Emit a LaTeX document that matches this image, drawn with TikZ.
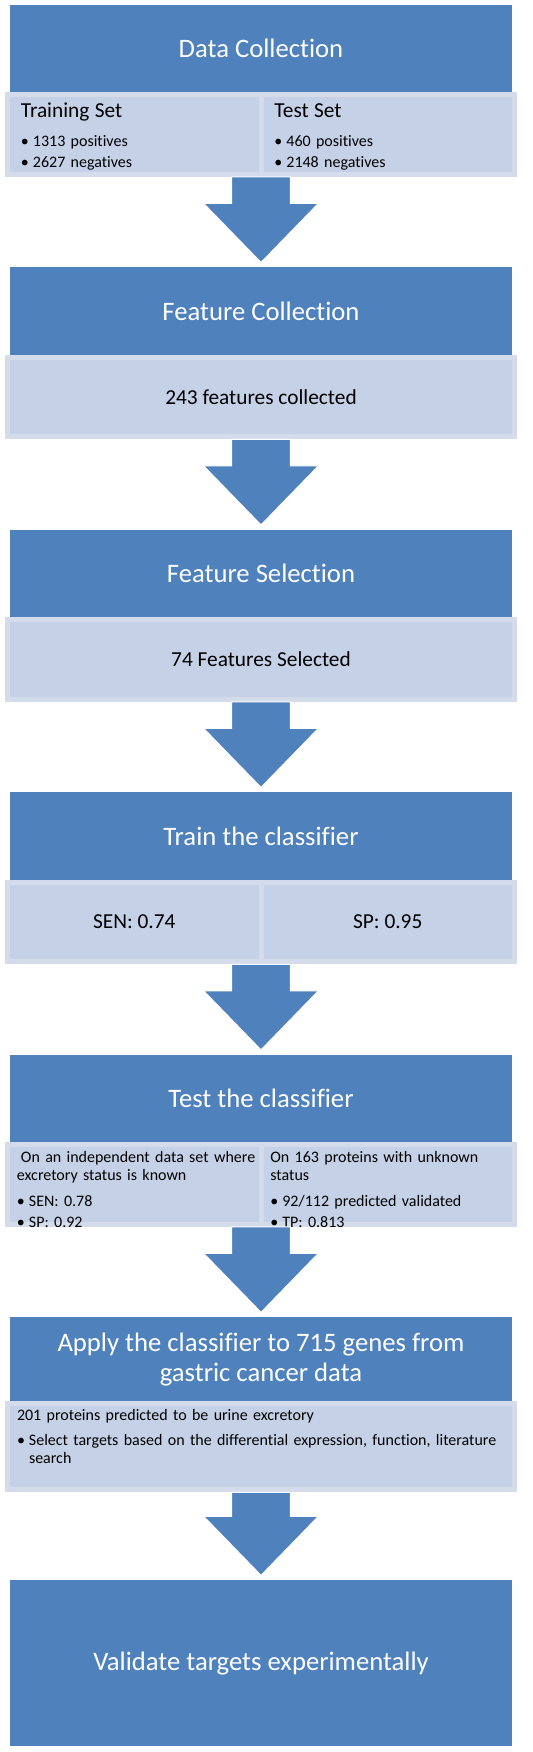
\documentclass[tikz,border=0pt]{standalone}
\usepackage{fontspec}
\setmainfont{Carlito}[Ligatures=NoCommon]
\usetikzlibrary{positioning,calc}

\definecolor{hdrblue}{RGB}{79,129,189}
\definecolor{panelfill}{RGB}{197,209,230}
\definecolor{panelrim}{RGB}{212,220,236}

\newcommand{\stepbullet}{\makebox[9pt][l]{\textbullet}}

\begin{document}
\begin{tikzpicture}[
                    header/.style={rectangle, fill=hdrblue, text=white, outer sep=0pt,
                        minimum width=376.5pt, minimum height=65.6pt, align=center,
                        font=\fontsize{20}{22.5}\selectfont},
                    panel/.style={rectangle, fill=panelfill, draw=panelrim, line width=3.75pt,
                        minimum height=59.6pt, font=\fontsize{16}{19}\selectfont},
                    wide/.style={minimum width=380.25pt},
                    half/.style={minimum width=190.1pt},
                    listbox/.style={align=left, inner ysep=4pt, font=\fontsize{12}{13.5}\selectfont},
                    stepflow/.style={fill=hdrblue, draw=white, line width=0.75pt},
                    blockarrow/.style={to path={let \p1=(\tikztostart), \p2=(\tikztotarget) in
                        (\x2-22pt,\y1) -- (\x2-22pt,\y2+48pt) -- (\x2-43pt,\y2+48pt) -- (\x2,\y2+3.75pt)
                        -- (\x2+43pt,\y2+48pt) -- (\x2+22pt,\y2+48pt) -- (\x2+22pt,\y1) -- cycle}},
                ]
                \useasboundingbox (0,0) rectangle (399pt,-1314pt);

                \node[header, anchor=north] (datacol) at (195.75pt,-3.75pt) {Data Collection};
                \node[panel, half, listbox, text width=170pt, inner xsep=10pt, text height=12.9pt, text depth=38.7pt,
                    below left=0pt and -1.875pt of datacol.south] (datatrain)
                    {{\fontsize{16}{19}\selectfont Training Set}\\[8.25pt] \stepbullet 1313 positives\\[2.25pt] \stepbullet 2627 negatives};
                \node[panel, half, listbox, text width=170pt, inner xsep=10pt, text height=12.9pt, text depth=38.7pt,
                    below right=0pt and -1.875pt of datacol.south] (datatest)
                    {{\fontsize{16}{19}\selectfont Test Set}\\[8.25pt] \stepbullet 460 positives\\[2.25pt] \stepbullet 2148 negatives};
                \coordinate (datafoot) at (datacol.south |- datatrain.south);

                \node[header, below=67.9pt of datafoot] (featcol) {Feature Collection};
                \node[panel, wide, below=0pt of featcol] (featcolres) {243 features collected};

                \node[header, below=67.9pt of featcolres] (featsel) {Feature Selection};
                \node[panel, wide, below=0pt of featsel] (featselres) {74 Features Selected};

                \node[header, below=67.9pt of featselres] (train) {Train the classifier};
                \node[panel, half, below left=0pt and -1.875pt of train.south] (trainsen) {SEN: 0.74};
                \node[panel, half, below right=0pt and -1.875pt of train.south] (trainsp) {SP: 0.95};
                \coordinate (trainfoot) at (train.south |- trainsen.south);

                \node[header, below=67.9pt of trainfoot] (test) {Test the classifier};
                \node[panel, half, listbox, text width=176pt, inner xsep=7pt, text height=9.1pt, text depth=42.5pt,
                    below left=0pt and -1.875pt of test.south] (testknown)
                    {\mbox{\hspace*{3pt}On an independent data set where}\\ excretory status is known\\[6pt]
                     \stepbullet SEN: 0.78\\[2.5pt] \stepbullet SP: 0.92};
                \node[panel, half, listbox, text width=176pt, inner xsep=7pt, text height=9.1pt, text depth=42.5pt,
                    below right=0pt and -1.875pt of test.south] (testunknown)
                    {On 163 proteins with unknown\\ status\\[6pt]
                     \stepbullet 92/112 predicted validated\\[2.5pt] \stepbullet TP: 0.813};
                \coordinate (testfoot) at (test.south |- testknown.south);

                \node[header, minimum height=63pt, below=67.9pt of testfoot] (apply)
                    {Apply the classifier to 715 genes from\\ gastric cancer data};
                \node[panel, wide, listbox, minimum height=64.5pt, text width=366pt, inner xsep=7pt,
                    text height=8.4pt, text depth=48pt, below=0pt of apply] (applyres)
                    {201 proteins predicted to be urine excretory\\[5pt]
                     \stepbullet Select targets based on the differential expression, function, literature\\
                     \hspace*{9pt}search};

                \node[header, minimum height=124.5pt, below=66pt of applyres] (validate) {Validate targets experimentally};

                \draw[stepflow] (datafoot) to[blockarrow] (featcol.north);
                \draw[stepflow] (featcolres.south) to[blockarrow] (featsel.north);
                \draw[stepflow] (featselres.south) to[blockarrow] (train.north);
                \draw[stepflow] (trainfoot) to[blockarrow] (test.north);
                \draw[stepflow] (testfoot) to[blockarrow] (apply.north);
                \draw[stepflow] (applyres.south) to[blockarrow] (validate.north);
                \end{tikzpicture}
\end{document}
